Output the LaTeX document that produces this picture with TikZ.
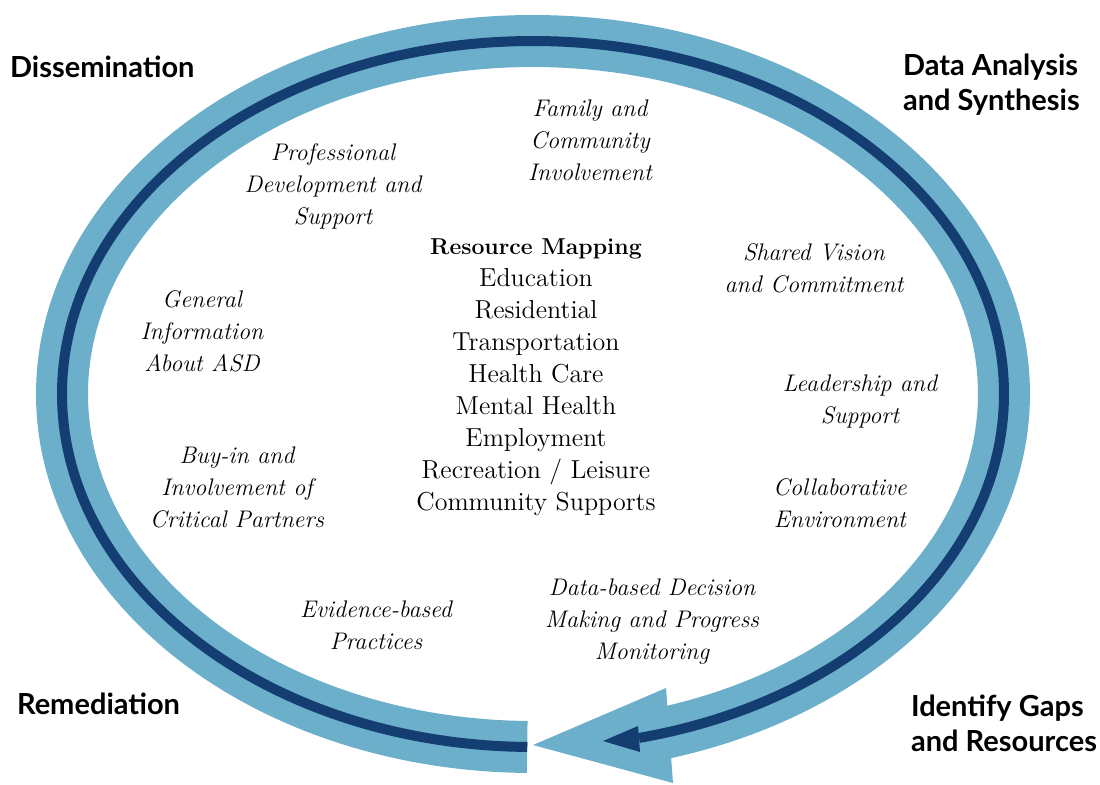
\documentclass[tikz,border=0pt]{standalone}
\usepackage{fontspec}
\newfontfamily\stagefont{Lato}
\definecolor{ringblue}{RGB}{108,175,203}
\definecolor{ringnavy}{RGB}{20,61,114}
\tikzset{
  stage/.style={font=\stagefont\bfseries\fontsize{14.5}{17.5}\selectfont, align=left, anchor=west},
  topic/.style={font=\itshape\fontsize{12}{16}\selectfont, align=center},
  band/.style={line width=26pt, ringblue},
  track/.style={line width=5pt, ringnavy},
}
\begin{document}
\begin{tikzpicture}[x=0.5pt,y=0.5pt]
\useasboundingbox (0,0) rectangle (1100,784);

\pgfmathsetmacro{\cx}{533}
\pgfmathsetmacro{\cy}{390}
\pgfmathsetmacro{\a}{269.3}

% light band with its head
\draw[band] ({\cx+471*cos(\a)},{\cy+353*sin(\a)})
    arc[start angle=\a, end angle=-74, x radius=235.5pt, y radius=176.5pt];
\fill[ringblue] (533,39) -- (666,96) -- (673,1) -- cycle;

% dark track with its head
\draw[track] ({\cx+471*cos(\a)},{\cy+353*sin(\a)})
    arc[start angle=\a, end angle=-77, x radius=235.5pt, y radius=176.5pt];
\fill[ringnavy] (603,43) -- (638,58) -- (640,32) -- cycle;

% stages
\node[stage] (dissem) at (3,717) {Dissemination};
\node[stage] (analysis) at (896,699) {Data Analysis\\and Synthesis};
\node[stage] (gaps) at (904,61) {Identify Gaps\\and Resources};
\node[stage] (remed) at (10,80) {Remediation};

% topics inside the ring
\node[topic] (family) at (590,644) {Family and\\Community\\Involvement};
\node[topic] (profdev) at (333,598) {Professional\\Development and\\Support};
\node[topic] (vision) at (814,516) {Shared Vision\\and Commitment};
\node[topic] (general) at (202,453) {General\\Information\\About ASD};
\node[topic] (leader) at (860,383) {Leadership and\\Support};
\node[topic] (buyin) at (237,297) {Buy-in and\\Involvement of\\Critical Partners};
\node[topic] (collab) at (840,281) {Collaborative\\Environment};
\node[topic] (evidence) at (376,159) {Evidence-based\\Practices};
\node[topic] (databased) at (652,162) {Data-based Decision\\Making and Progress\\Monitoring};

\node[align=center, font=\fontsize{13}{16}\selectfont] (mapping) at (536,407)
  {{\bfseries\fontsize{11.5}{16}\selectfont Resource Mapping}\\Education\\Residential\\Transportation\\Health Care\\Mental Health\\Employment\\Recreation / Leisure\\Community Supports};
\end{tikzpicture}
\end{document}
